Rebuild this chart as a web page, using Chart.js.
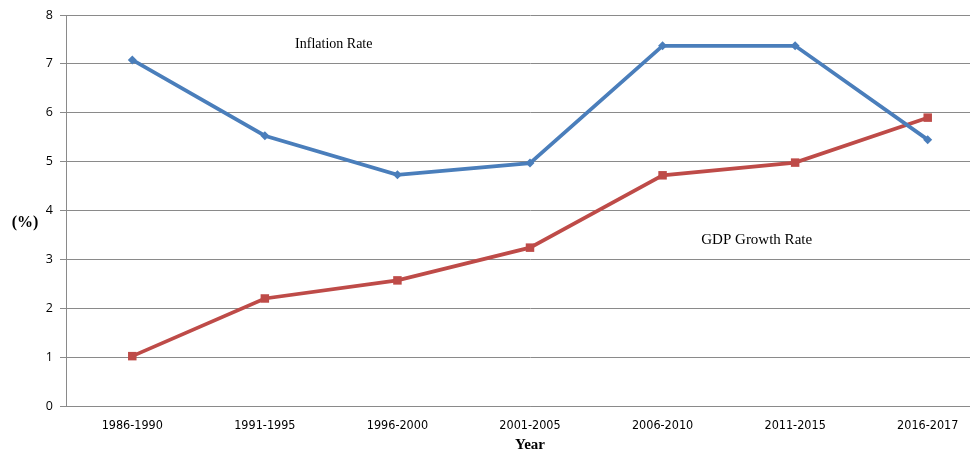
<!DOCTYPE html>
<html>
<head>
<meta charset="utf-8">
<script src="https://cdn.jsdelivr.net/npm/chart.js@4/dist/chart.umd.min.js"></script>
<style>
  html, body { margin: 0; padding: 0; background: #ffffff; overflow: hidden; }
  #wrap { position: relative; width: 1000px; height: 454px; }
</style>
</head>
<body>
<div id="wrap"><canvas id="c"></canvas></div>
<script>
// Five-year periods on the horizontal axis
const periods = ["1986-1990", "1991-1995", "1996-2000", "2001-2005", "2006-2010", "2011-2015", "2016-2017"];
// Average rates per period, in percent
const inflationRate = [7.08, 5.53, 4.73, 4.97, 7.37, 7.37, 5.45];
const gdpGrowthRate = [1.02, 2.20, 2.57, 3.24, 4.72, 4.98, 5.90];
// Vertical axis ticks
const yTicks = [0, 1, 2, 3, 4, 5, 6, 7, 8];

const GRID = "#8a8a8a";

// In-chart series captions and the horizontal unit label
const captions = [
  { text: "Inflation Rate", idx: 1.52, val: 7.39, font: "14px 'Liberation Serif', 'DejaVu Serif', serif" },
  { text: "GDP Growth Rate", idx: 4.71, val: 3.39, font: "15px 'Liberation Serif', 'DejaVu Serif', serif" }
];

const captionPlugin = {
  id: "captions",
  afterDatasetsDraw(chart) {
    const { ctx, scales } = chart;
    ctx.save();
    ctx.fillStyle = "#000";
    ctx.textAlign = "center";
    ctx.textBaseline = "middle";
    captions.forEach(c => {
      ctx.font = c.font;
      ctx.fillText(c.text, scales.x.getPixelForValue(c.idx), scales.y.getPixelForValue(c.val));
    });
    ctx.font = "bold 16px 'Liberation Serif', 'DejaVu Serif', serif";
    ctx.fillText("(%)", 25, 223);
    ctx.restore();
  }
};

new Chart(document.getElementById("c"), {
  type: "line",
  data: {
    labels: periods,
    datasets: [
      {
        label: "Inflation Rate",
        data: inflationRate,
        borderColor: "#4a7ebb",
        backgroundColor: "#4a7ebb",
        borderWidth: 3.7,
        pointStyle: "rectRot",
        pointRadius: 4.5,
        pointBorderWidth: 0,
        tension: 0
      },
      {
        label: "GDP Growth Rate",
        data: gdpGrowthRate,
        borderColor: "#be4b48",
        backgroundColor: "#be4b48",
        borderWidth: 3.7,
        pointStyle: "rect",
        pointRadius: 6,
        pointBorderWidth: 0,
        tension: 0
      }
    ]
  },
  options: {
    responsive: true,
    maintainAspectRatio: false,
    animation: false,
    layout: { padding: { left: 0, top: 15, right: 3, bottom: 0 } },
    plugins: {
      legend: { display: false },
      tooltip: { enabled: false }
    },
    scales: {
      x: {
        offset: true,
        grid: { display: false, drawTicks: false },
        border: { display: true, color: GRID, width: 1 },
        ticks: {
          color: "#000",
          padding: 12,
          maxRotation: 0,
          autoSkip: false,
          font: { family: "'DejaVu Sans Condensed', 'Liberation Sans', sans-serif", size: 12.5 }
        },
        title: {
          display: true,
          text: "Year",
          color: "#000",
          padding: { top: 1, bottom: 0 },
          font: { family: "'Liberation Serif', 'DejaVu Serif', serif", size: 15, weight: "bold" }
        },
        afterFit(scale) { scale.height = 48; }
      },
      y: {
        min: 0,
        max: 8,
        afterBuildTicks(scale) { scale.ticks = yTicks.map(v => ({ value: v })); },
        grid: { color: GRID, lineWidth: 1, tickLength: 6, drawTicks: true },
        border: { display: true, color: GRID, width: 1 },
        ticks: {
          color: "#000",
          padding: 7,
          font: { family: "'Open Sans', 'Liberation Sans', sans-serif", size: 12.5 }
        },
        afterFit(scale) { scale.width = 66; }
      }
    }
  },
  plugins: [captionPlugin]
});
</script>
</body>
</html>
